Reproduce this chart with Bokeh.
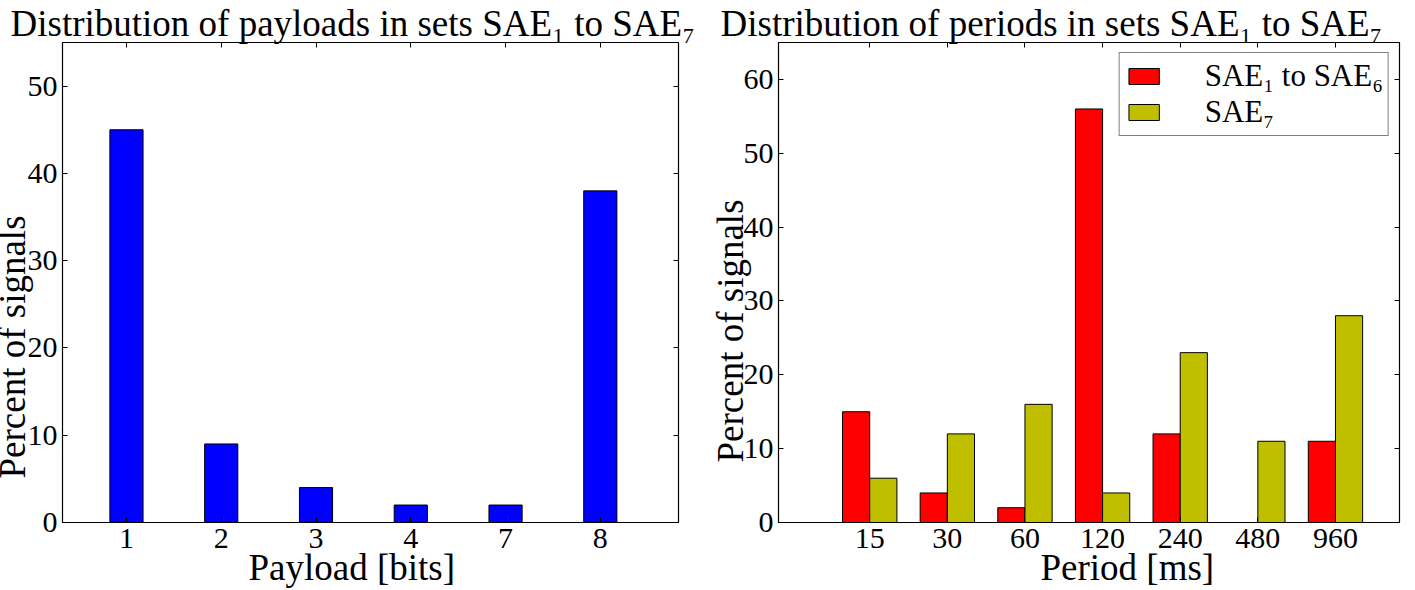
from bokeh.plotting import figure
from bokeh.models import (Range1d, FixedTicker, LinearAxis, Legend,
                          LegendItem, Title)
from bokeh.layouts import row
from bokeh.embed import file_html
from bokeh.resources import INLINE

# ---------------- data ----------------
payload_labels = ["1", "2", "3", "4", "7", "8"]
payload_pct = [45, 9, 4, 2, 2, 38]

period_labels = ["15", "30", "60", "120", "240", "480", "960"]
period_sae1_6 = [15, 4, 2, 56, 12, 0, 11]
period_sae7 = [6, 12, 16, 4, 23, 11, 28]

payload_yticks = [0, 10, 20, 30, 40, 50]
period_yticks = [0, 10, 20, 30, 40, 50, 60]

FONT = "Liberation Serif"
TICK_SIZE = "30px"
LABEL_SIZE = "37px"
TITLE_SIZE = "37px"
BAR_W = 0.35


def mirror_axis(ticks):
    return LinearAxis(ticker=FixedTicker(ticks=ticks), major_tick_in=5,
                      major_tick_out=0, minor_tick_line_color=None,
                      axis_line_color=None, major_label_text_font_size="1px",
                      major_label_text_color=None, major_label_standoff=0,
                      major_tick_line_color="black")


def style(p, xticks, xlabels, yticks):
    p.grid.visible = False
    p.outline_line_color = "black"
    p.outline_line_width = 1.2
    p.background_fill_color = "white"
    p.border_fill_color = "white"
    xa = p.xaxis[0]
    ya = p.yaxis[0]
    xa.ticker = FixedTicker(ticks=xticks)
    xa.major_label_overrides = {t: l for t, l in zip(xticks, xlabels)}
    ya.ticker = FixedTicker(ticks=yticks)
    for ax in (xa, ya):
        ax.major_tick_in = 5
        ax.major_tick_out = 0
        ax.minor_tick_line_color = None
        ax.axis_line_color = "black"
        ax.major_tick_line_color = "black"
        ax.major_label_text_font = FONT
        ax.major_label_text_font_size = TICK_SIZE
        ax.major_label_text_color = "black"
    xa.major_label_standoff = 6
    ya.major_label_standoff = 5
    p.add_layout(mirror_axis(xticks), "above")
    p.add_layout(mirror_axis(yticks), "right")


def set_title(p, text, offset):
    p.title.text = text
    p.title.align = "left"
    p.title.offset = offset
    p.title.text_font = FONT
    p.title.text_font_size = TITLE_SIZE
    p.title.text_font_style = "normal"
    p.title.text_color = "black"
    p.title.standoff = -2


def add_xlabel(p, text, offset):
    p.add_layout(Title(text=text, align="left", offset=offset,
                       text_font=FONT, text_font_size=LABEL_SIZE,
                       text_font_style="normal", text_color="black",
                       standoff=-11), "below")


def add_ylabel(p, text, offset, standoff):
    p.add_layout(Title(text=text, align="left", offset=offset,
                       vertical_align="middle",
                       text_font=FONT, text_font_size=LABEL_SIZE,
                       text_font_style="normal", text_color="black",
                       standoff=standoff), "left")


# ---------------- left: payloads ----------------
xs1 = list(range(len(payload_labels)))
p1 = figure(width=708, height=590, x_range=Range1d(-0.675, 5.825),
            y_range=Range1d(0, 55), output_backend="svg",
            toolbar_location=None, min_border_left=58, min_border_right=30,
            min_border_top=42, min_border_bottom=68)
p1.vbar(x=xs1, top=payload_pct, width=BAR_W, fill_color="#0000ff",
        line_color="black", line_width=1)
style(p1, xs1, payload_labels, payload_yticks)
set_title(p1, "Distribution of payloads in sets SAE\u2081 to SAE\u2087", -52)
add_xlabel(p1, "Payload [bits]", 186)
add_ylabel(p1, "Percent of signals", 44, -19)

# ---------------- right: periods ----------------
xs2 = list(range(len(period_labels)))
p2 = figure(width=707, height=590, x_range=Range1d(-1.175, 6.825),
            y_range=Range1d(0, 65), output_backend="svg",
            toolbar_location=None, min_border_left=70, min_border_right=16,
            min_border_top=42, min_border_bottom=68)
r_red = p2.vbar(x=[x - BAR_W / 2 for x in xs2], top=period_sae1_6, width=BAR_W,
                fill_color="#ff0000", line_color="black", line_width=1)
r_olive = p2.vbar(x=[x + BAR_W / 2 for x in xs2], top=period_sae7, width=BAR_W,
                  fill_color="#bfbf00", line_color="black", line_width=1)
style(p2, xs2, period_labels, period_yticks)
set_title(p2, "Distribution of periods in sets SAE\u2081 to SAE\u2087", -58)
add_xlabel(p2, "Period [ms]", 262)
add_ylabel(p2, "Percent of signals", 60, -22)

legend = Legend(items=[LegendItem(label="SAE\u2081 to SAE\u2086", renderers=[r_red]),
                       LegendItem(label="SAE\u2087", renderers=[r_olive])],
                location="top_right")
legend.margin = 10
legend.padding = 5
legend.glyph_width = 38
legend.glyph_height = 20
legend.label_standoff = 42
legend.spacing = 0
legend.label_text_font = FONT
legend.label_text_font_size = "31px"
legend.label_text_color = "black"
legend.border_line_color = "black"
legend.border_line_width = 1
legend.background_fill_color = "white"
legend.background_fill_alpha = 1
p2.add_layout(legend, "center")

layout = row(p1, p2)
with open("out.html", "w") as f:
    f.write(file_html(layout, INLINE))
